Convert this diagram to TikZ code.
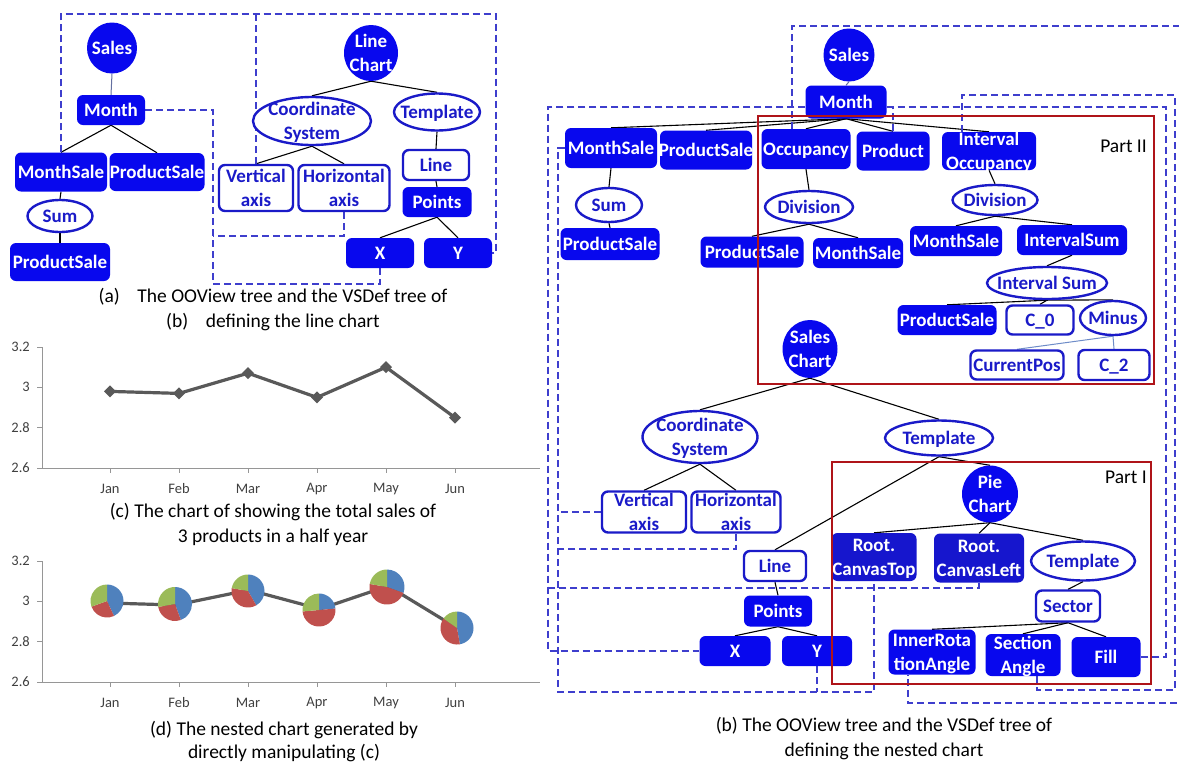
\documentclass[tikz,border=0pt]{standalone}
\usepackage{fontspec}
\setmainfont{Carlito}
\usetikzlibrary{shapes.geometric}

\definecolor{nodeblue}{RGB}{8,8,238}
\definecolor{darknode}{RGB}{22,22,205}
\definecolor{outblue}{RGB}{26,26,200}
\definecolor{dashblue}{RGB}{62,62,205}
\definecolor{partred}{RGB}{175,20,25}
\definecolor{softline}{RGB}{100,112,160}
\definecolor{minusline}{RGB}{110,140,200}
\definecolor{pieblue}{RGB}{79,129,189}
\definecolor{piered}{RGB}{192,80,77}
\definecolor{piegreen}{RGB}{155,187,89}
\definecolor{chartline}{RGB}{89,89,89}
\definecolor{axisgray}{RGB}{150,150,150}
\definecolor{ticktext}{RGB}{64,64,64}

\pgfdeclarelayer{under}
\pgfsetlayers{under,main}

% centred label that never enlarges its shape
\newcommand\ntx[1]{\smash{\makebox[0pt]{\raisebox{-0.3em}{\begin{tabular}{@{}c@{}}#1\end{tabular}}}}}

% one pie glyph: centre x, centre y, radius, end of blue, end of red (screen angles)
\newcommand\piechip[5]{%
  \begin{scope}[shift={(#1,#2)},x=1pt,y=1pt]
    \fill[pieblue] (0,0) -- (90:#3) arc[start angle=90, end angle=#4, radius=#3] -- cycle;
    \fill[piered] (0,0) -- (#4:#3) arc[start angle=#4, end angle={#5-360}, radius=#3] -- cycle;
    \fill[piegreen] (0,0) -- ({#5-360}:#3) arc[start angle={#5-360}, end angle=-270, radius=#3] -- cycle;
  \end{scope}}

\tikzset{
  nodefont/.style={font=\fontsize{19}{24}\selectfont\bfseries},
  sz/.style 2 args={minimum width=#1pt, minimum height=#2pt},
  fbox/.style={rectangle, rounded corners=6pt, fill=nodeblue, text=white, inner sep=0pt, nodefont},
  dbox/.style={fbox, fill=darknode},
  obox/.style={rectangle, rounded corners=6pt, draw=outblue, line width=2.4pt, fill=white, text=outblue, inner sep=0pt, nodefont},
  oell/.style={ellipse, draw=outblue, line width=2.4pt, fill=white, text=outblue, inner sep=0pt, nodefont},
  fcirc/.style={ellipse, fill=nodeblue, text=white, inner sep=0pt, nodefont},
  tree/.style={draw=black, line width=1.1pt},
  softtree/.style={draw=softline, line width=1pt},
  minustree/.style={draw=minusline, line width=1pt},
  link/.style={draw=dashblue, line width=1.3pt, dash pattern=on 7pt off 4pt},
  partbox/.style={draw=partred, line width=2.4pt},
  partlabel/.style={anchor=east, inner sep=0pt, font=\fontsize{19.5}{23}\selectfont},
  captext/.style={inner sep=0pt, font=\fontsize{19.5}{23}\selectfont},
  ticklab/.style={inner sep=0pt, text=ticktext, font=\fontsize{14.5}{16}\selectfont},
  axis/.style={draw=axisgray, line width=1pt},
  series/.style={draw=chartline, line width=3.2pt, line join=round},
}

\begin{document}
\begin{tikzpicture}[x=1pt,y=-1pt]
\begin{pgfonlayer}{under}
  \fill[white] (0,0) rectangle (1179,761);
\end{pgfonlayer}
\useasboundingbox (0,0) rectangle (1179,761);

% ===================== (a) trees of the line chart
\node[fcirc, sz={50}{51}]  (a-sales)  at (112,48)  {\ntx{Sales}};
\node[fbox,  sz={68}{30}]  (a-month)  at (111,110) {\ntx{Month}};
\node[fbox,  sz={92}{39}]  (a-msale)  at (61,172)  {\ntx{MonthSale}};
\node[fbox,  sz={95}{38}]  (a-psale)  at (157,172) {\ntx{ProductSale}};
\node[oell,  sz={65}{32}]  (a-sum)    at (60,216)  {\ntx{Sum}};
\node[fbox,  sz={100}{38}] (a-psale2) at (60,262)  {\ntx{ProductSale}};

\node[fcirc, sz={54}{56}]  (a-lc)     at (371,53)  {\ntx{Line\\Chart}};
\node[oell,  sz={118}{48}] (a-coord)  at (312,121) {\ntx{Coordinate\\System}};
\node[oell,  sz={86}{37}]  (a-templ)  at (437,112) {\ntx{Template}};
\node[obox,  sz={66}{30}]  (a-line)   at (436,165) {\ntx{Line}};
\node[fbox,  sz={69}{30}]  (a-points) at (437,202) {\ntx{Points}};
\node[obox,  sz={74}{46}]  (a-vax)    at (256,188) {\ntx{Vertical\\axis}};
\node[obox,  sz={91}{46}]  (a-hax)    at (344,188) {\ntx{Horizontal\\axis}};
\node[fbox,  sz={68}{30}]  (a-x)      at (380,253) {\ntx{X}};
\node[fbox,  sz={68}{30}]  (a-y)      at (458,253) {\ntx{Y}};

\node[captext] (cap-a1) at (273,297) {(a)\hspace{0.9em}The OOView tree and the VSDef tree of};
\node[captext] (cap-a2) at (273,322) {(b)\hspace{0.9em}defining the line chart};

\begin{pgfonlayer}{under}
  \draw[softtree] (a-sales.south) -- (a-month.north);
  \draw[tree] (a-month.south) -- (a-msale.north);
  \draw[tree] (a-month.south) -- (a-psale.north);
  \draw[tree] (a-msale.south) -- (a-sum.north);
  \draw[tree] (a-sum.south) -- (a-psale2.north);
  \draw[tree] (a-lc.south) -- (a-coord.north);
  \draw[tree] (a-lc.south) -- (a-templ.north);
  \draw[tree] (a-coord.south) -- (a-vax.north);
  \draw[tree] (a-coord.south) -- (a-hax.north);
  \draw[tree] (a-templ.south) -- (a-line.north);
  \draw[tree] (a-line.south) -- (a-points.north);
  \draw[tree] (a-points.south) -- (a-x.north);
  \draw[tree] (a-points.south) -- (a-y.north);
  % correspondences between the two trees
  \draw[link] (a-msale.north) -- (61,14) -- (496,14) -- (496,0 |- a-y.east) -- (a-y.east);
  \draw[link] (a-vax.north) -- (a-vax.north |- 0,14);
  \draw[link] (a-month.east) -- (213,0 |- a-month.east) -- (213,284) -- (a-x.south |- 0,284) -- (a-x.south);
  \draw[link] (a-hax.south) -- (a-hax.south |- 0,236) -- (213,236);
\end{pgfonlayer}

% ===================== (c) line chart
\draw[axis] (42,347) -- (42,468) -- (540,468);
\foreach \yy/\lab in {347/3.2, 387.3/3, 427.7/2.8, 468/2.6} {
  \draw[axis] (37,\yy) -- (42,\yy);
  \node[ticklab, anchor=east] at (30,\yy) {\lab};
}
\foreach \k/\m in {0/Jan,1/Feb,2/Mar,3/Apr,4/May,5/Jun} {
  \draw[axis] (110+69*\k,468) -- (110+69*\k,473);
  \node[ticklab] at (110+69*\k,489) {\m};
}
\draw[series] (110,391.4) -- (179,393.4) -- (248,373.2) -- (317,397.4) -- (386,367.2) -- (455,417.6);
\foreach \px/\py in {110/391.4, 179/393.4, 248/373.2, 317/397.4, 386/367.2, 455/417.6}
  \fill[chartline] (\px,\py) +(-6,0) -- +(0,-6) -- +(6,0) -- +(0,6) -- cycle;

\node[captext] (cap-c1) at (273,512) {(c) The chart of showing the total sales of};
\node[captext] (cap-c2) at (273,537) {3 products in a half year};

% ===================== (d) nested chart
\draw[axis] (42,561) -- (42,682) -- (540,682);
\foreach \yy/\lab in {561/3.2, 601.3/3, 641.7/2.8, 682/2.6} {
  \draw[axis] (37,\yy) -- (42,\yy);
  \node[ticklab, anchor=east] at (30,\yy) {\lab};
}
\foreach \k/\m in {0/Jan,1/Feb,2/Mar,3/Apr,4/May,5/Jun} {
  \draw[axis] (110+69*\k,682) -- (110+69*\k,687);
  \node[ticklab] at (110+69*\k,703) {\m};
}
\draw[series] (108,603) -- (176,605) -- (249,590) -- (320,609) -- (388,586) -- (457,628);
\piechip{107}{601}{16.5}{-65}{200}
\piechip{175}{604}{17}{-70}{190}
\piechip{248}{591}{16.5}{-60}{170}
\piechip{319}{610}{16.5}{5}{185}
\piechip{387}{587}{17.5}{-20}{170}
\piechip{457}{628}{16.5}{-80}{145}

\node[captext] (cap-d1) at (284,730) {(d) The nested chart generated by};
\node[captext] (cap-d2) at (284,753) {directly manipulating (c)};

% ===================== (b) trees of the nested chart
\node[fcirc, sz={51}{53}]  (b-sales)  at (849,55)  {\ntx{Sales}};
\node[fbox,  sz={81}{33}]  (b-month)  at (846,102) {\ntx{Month}};
\node[fbox,  sz={92}{40}]  (b-msale)  at (611,148) {\ntx{MonthSale}};
\node[fbox,  sz={92}{39}]  (b-psale)  at (706,150) {\ntx{ProductSale}};
\node[fbox,  sz={89}{40}]  (b-occ)    at (806,149) {\ntx{Occupancy}};
\node[fbox,  sz={73}{39}]  (b-prod)   at (893,151) {\ntx{Product}};
\node[fbox,  sz={94}{38}]  (b-io)     at (989,151) {\ntx{Interval\\Occupancy}};
\node[oell,  sz={66}{34}]  (b-sum)    at (609,205) {\ntx{Sum}};
\node[fbox,  sz={99}{32}]  (b-psale2) at (610,244) {\ntx{ProductSale}};
\node[oell,  sz={88}{32}]  (b-div1)   at (809,207) {\ntx{Division}};
\node[fbox,  sz={103}{31}] (b-psale3) at (752,252) {\ntx{ProductSale}};
\node[fbox,  sz={90}{30}]  (b-msale3) at (858,253) {\ntx{MonthSale}};
\node[oell,  sz={85}{30}]  (b-div2)   at (995,200) {\ntx{Division}};
\node[fbox,  sz={92}{30}]  (b-msale4) at (956,241) {\ntx{MonthSale}};
\node[fbox,  sz={110}{30}] (b-isum)   at (1072,240) {\ntx{IntervalSum}};
\node[oell,  sz={120}{32}] (b-isume)  at (1047,283) {\ntx{Interval Sum}};
\node[fbox,  sz={99}{30}]  (b-psale4) at (947,320) {\ntx{ProductSale}};
\node[obox,  sz={67}{29}]  (b-c0)     at (1040,320) {\ntx{C\_0}};
\node[oell,  sz={66}{34}]  (b-minus)  at (1113,318) {\ntx{Minus}};
\node[obox,  sz={93}{29}]  (b-cpos)   at (1017,365) {\ntx{CurrentPos}};
\node[obox,  sz={71}{30}]  (b-c2)     at (1114,365) {\ntx{C\_2}};
\node[fcirc, sz={55}{58}]  (b-schart) at (810,349) {\ntx{Sales\\Chart}};
\node[oell,  sz={115}{52}] (b-coord)  at (700,437) {\ntx{Coordinate\\System}};
\node[oell,  sz={108}{35}] (b-templ)  at (939,438) {\ntx{Template}};
\node[obox,  sz={84}{41}]  (b-vax)    at (644,512) {\ntx{Vertical\\axis}};
\node[obox,  sz={89}{41}]  (b-hax)    at (736,512) {\ntx{Horizontal\\axis}};
\node[obox,  sz={62}{30}]  (b-line)   at (775,566) {\ntx{Line}};
\node[fbox,  sz={68}{31}]  (b-points) at (778,611) {\ntx{Points}};
\node[fbox,  sz={71}{30}]  (b-x)      at (735,651) {\ntx{X}};
\node[fbox,  sz={70}{30}]  (b-y)      at (817,651) {\ntx{Y}};
\node[fcirc, sz={56}{57}]  (b-pie)    at (990,494) {\ntx{Pie\\Chart}};
\node[dbox,  sz={85}{48}]  (b-ctop)   at (874,557) {\ntx{Root.\\CanvasTop}};
\node[dbox,  sz={90}{49}]  (b-cleft)  at (979,558) {\ntx{Root.\\CanvasLeft}};
\node[oell,  sz={104}{39}] (b-templ2) at (1083,561) {\ntx{Template}};
\node[obox,  sz={64}{31}]  (b-sector) at (1068,606) {\ntx{Sector}};
\node[fbox,  sz={87}{45}]  (b-inner)  at (932,652) {\ntx{InnerRota\\tionAngle}};
\node[fbox,  sz={75}{42}]  (b-sangle) at (1023,655) {\ntx{Section\\Angle}};
\node[fbox,  sz={69}{40}]  (b-fill)   at (1106,657) {\ntx{Fill}};

\node[captext] (cap-b1) at (884,726) {(b) The OOView tree and the VSDef tree of};
\node[captext] (cap-b2) at (884,751) {defining the nested chart};

\begin{pgfonlayer}{under}
  \draw[softtree] (b-sales.south) -- (b-month.north);
  \foreach \c in {b-msale,b-psale,b-occ,b-prod,b-io}
    \draw[tree] (b-month.south) -- (\c.north);
  \draw[tree] (b-msale.south) -- (b-sum.north);
  \draw[tree] (b-sum.south) -- (b-psale2.north);
  \draw[tree] (b-occ.south) -- (b-div1.north);
  \draw[tree] (b-div1.south) -- (b-psale3.north);
  \draw[tree] (b-div1.south) -- (b-msale3.north);
  \draw[tree] (b-io.south) -- (b-div2.north);
  \draw[tree] (b-div2.south) -- (b-msale4.north);
  \draw[tree] (b-div2.south) -- (b-isum.north);
  \draw[tree] (b-isum.south) -- (b-isume.north);
  \draw[tree] (b-isume.south) -- (b-psale4.north);
  \draw[tree] (b-isume.south) -- (b-c0.north);
  \draw[tree] (b-isume.south) -- (b-minus.north);
  \draw[minustree] (b-minus.south) -- (b-cpos.north);
  \draw[minustree] (b-minus.south) -- (b-c2.north);
  \draw[tree] (b-schart.south) -- (b-coord.north);
  \draw[tree] (b-schart.south) -- (b-templ.north);
  \draw[tree] (b-coord.south) -- (b-vax.north);
  \draw[tree] (b-coord.south) -- (b-hax.north);
  \draw[tree] (b-templ.south) -- (b-line.north);
  \draw[tree] (b-templ.south) -- (b-pie.north);
  \draw[tree] (b-line.south) -- (b-points.north);
  \draw[tree] (b-points.south) -- (b-x.north);
  \draw[tree] (b-points.south) -- (b-y.north);
  \draw[tree] (b-pie.south) -- (b-ctop.north);
  \draw[tree] (b-pie.south) -- (b-cleft.north);
  \draw[tree] (b-pie.south) -- (b-templ2.north);
  \draw[tree] (b-templ2.south) -- (b-sector.north);
  \draw[tree] (b-sector.south) -- (b-inner.north);
  \draw[tree] (b-sector.south) -- (b-sangle.north);
  \draw[tree] (b-sector.south) -- (b-fill.north);
  % correspondences between the OOView tree and the VSDef tree
  \draw[link] (792,0 |- b-occ.north) -- (792,26) -- (1183,26) -- (1183,703) -- (908,703) -- (908,0 |- b-inner.south);
  \draw[link] (b-month.east |- 0,107) -- (1166,107) -- (1166,0 |- b-fill.east) -- (b-fill.east);
  \draw[link] (b-prod.north) -- (b-prod.north |- 0,107);
  \draw[link] (b-month.west |- 0,107) -- (548,107) -- (548,0 |- b-x.west) -- (b-x.west);
  \draw[link] (b-cleft.south) -- (b-cleft.south |- 0,588) -- (548,588);
  \draw[link] (b-msale.west) -- (558,0 |- b-msale.west) -- (558,692) -- (b-ctop.south |- 0,692) -- (b-ctop.south);
  \draw[link] (b-y.south) -- (b-y.south |- 0,692);
  \draw[link] (b-vax.west) -- (558,0 |- b-vax.west);
  \draw[link] (b-hax.south) -- (b-hax.south |- 0,549) -- (558,549);
  \draw[link] (1037,0 |- b-sangle.south) -- (1037,690) -- (1175,690) -- (1175,95) -- (962,95) -- (962,0 |- b-io.north);
\end{pgfonlayer}

% the two parts of the nested chart definition
\draw[partbox] (758,116) rectangle (1154,384);
\node[partlabel] (part2) at (1147,146) {Part II};
\draw[partbox] (832,462) rectangle (1151,684);
\node[partlabel] (part1) at (1147,477) {Part I};
\end{tikzpicture}
\end{document}
